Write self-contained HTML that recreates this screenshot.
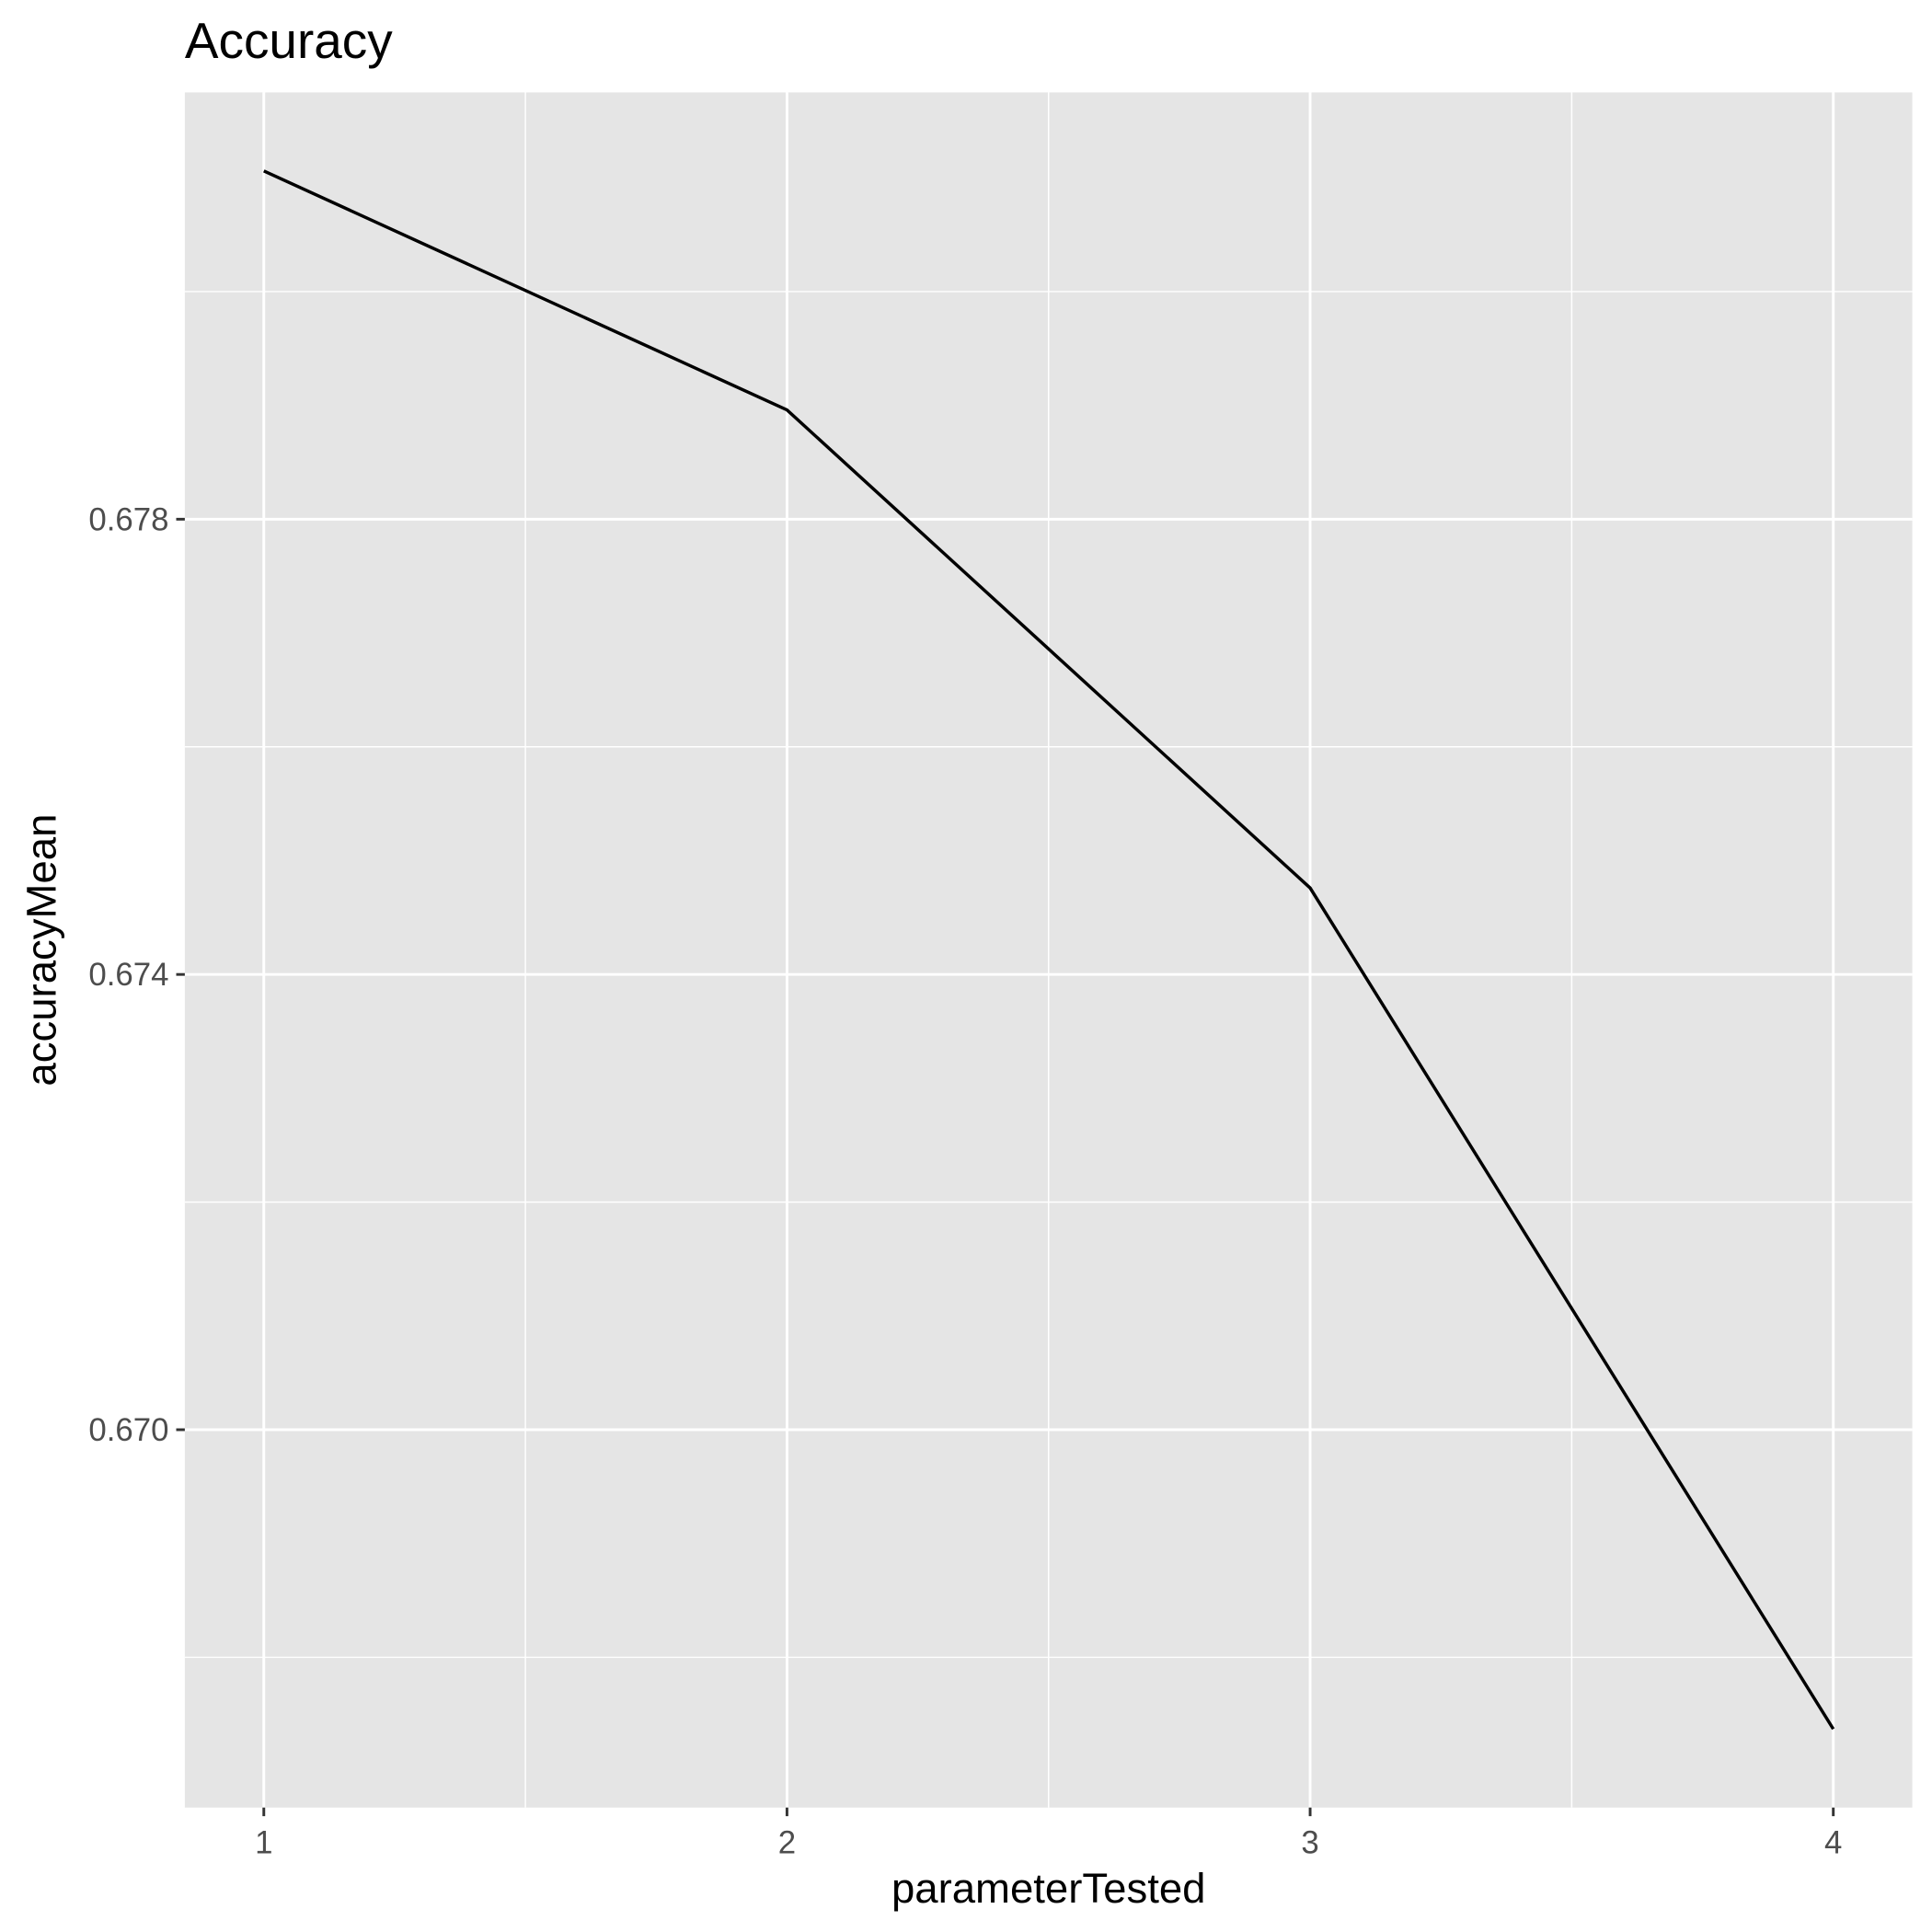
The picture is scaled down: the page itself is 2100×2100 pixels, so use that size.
<!DOCTYPE html>
<html><head><meta charset="utf-8"><style>
html,body{margin:0;padding:0;background:#fff;}
svg{display:block;font-family:"Liberation Sans",Arial,sans-serif;}
</style></head><body>
<svg id="chart" width="2100" height="2100" viewBox="0 0 1568 1568" xmlns="http://www.w3.org/2000/svg">
<text x="150" y="47" font-size="41" fill="#000">Accuracy</text>
<rect x="150" y="75" width="1402" height="1392" fill="#e5e5e5"/>
<g id="grid"></g>
<g id="axes"></g>
<g id="series"></g>
<text x="851" y="1544" font-size="34" text-anchor="middle" fill="#000">parameterTested</text>
<text transform="translate(45,771) rotate(-90)" font-size="34" text-anchor="middle" fill="#000">accuracyMean</text>
</svg>
<script>
const categories = [1, 2, 3, 4];
const accuracyMean = [0.68106, 0.67896, 0.67476, 0.66737];
const xTicks = [1, 2, 3, 4];
const yTicks = [0.670, 0.674, 0.678];
const yMinorTicks = [0.668, 0.672, 0.676, 0.680];
const xMinorTicks = [1.5, 2.5, 3.5];

const PL = 150, PR = 1552, PT = 75, PB = 1467;
const xDom = [0.849, 4.151], yDom = [0.66668, 0.68175];
function xs(v){ return PL + (v - xDom[0]) / (xDom[1] - xDom[0]) * (PR - PL); }
function ys(v){ return PB - (v - yDom[0]) / (yDom[1] - yDom[0]) * (PB - PT); }
const NS = "http://www.w3.org/2000/svg";
function mk(tag, attrs, parent){ const e = document.createElementNS(NS, tag); for (const k in attrs) e.setAttribute(k, attrs[k]); parent.appendChild(e); return e; }
const grid = document.getElementById('grid'), axes = document.getElementById('axes'), series = document.getElementById('series');

yMinorTicks.forEach(v => { const l = mk('line', {x1:PL, x2:PR, y1:ys(v), y2:ys(v), stroke:'#fff', 'stroke-width':1.1}, grid);

 });
xMinorTicks.forEach(v => { const l = mk('line', {x1:xs(v), x2:xs(v), y1:PT, y2:PB, stroke:'#fff', 'stroke-width':1.1}, grid);

 });
yTicks.forEach(v => {
  const l = mk('line', {x1:PL, x2:PR, y1:ys(v), y2:ys(v), stroke:'#fff', 'stroke-width':2.2}, grid);
  
  
  const t = mk('line', {x1:PL-7, x2:PL, y1:ys(v), y2:ys(v), stroke:'#333', 'stroke-width':2.2}, axes);
  
  
  const tx = mk('text', {x:PL-13, y:ys(v)+9, 'font-size':26, 'text-anchor':'end', fill:'#4d4d4d'}, axes);
  tx.textContent = v.toFixed(3);
  
  
});
xTicks.forEach(v => {
  const l = mk('line', {x1:xs(v), x2:xs(v), y1:PT, y2:PB, stroke:'#fff', 'stroke-width':2.2}, grid);
  
  
  const t = mk('line', {x1:xs(v), x2:xs(v), y1:PB, y2:PB+7, stroke:'#333', 'stroke-width':2.2}, axes);
  
  
  const tx = mk('text', {x:xs(v), y:PB+37, 'font-size':26, 'text-anchor':'middle', fill:'#4d4d4d'}, axes);
  tx.textContent = String(v);
  
  
});
const pts = categories.map((c, i) => xs(c) + ',' + ys(accuracyMean[i])).join(' ');
const line = mk('polyline', {points:pts, fill:'none', stroke:'#000', 'stroke-width':2.6}, series);


</script>
</body></html>
